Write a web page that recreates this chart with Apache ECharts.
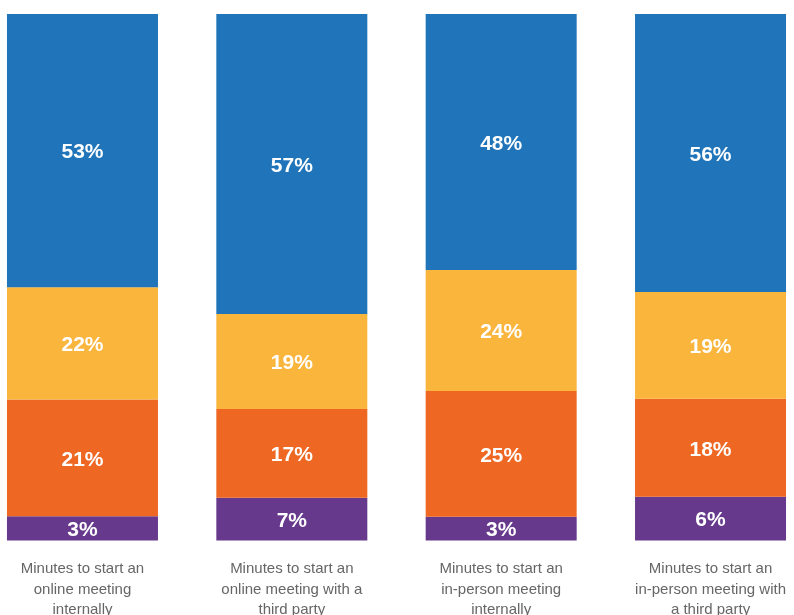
<!DOCTYPE html>
<html>
<head>
<meta charset="utf-8">
<script src="https://cdn.jsdelivr.net/npm/echarts@6/dist/echarts.min.js"></script>
<style>
    html, body { margin: 0; padding: 0; background: #fff; }
    #main { width: 794px; height: 615px; }
</style>
</head>
<body>
<div id="main"></div>
<script>
// categories (x axis)
var categories = [
    'Minutes to start an\nonline meeting\ninternally',
    'Minutes to start an\nonline meeting with a\nthird party',
    'Minutes to start an\nin-person meeting\ninternally',
    'Minutes to start an\nin-person meeting with\na third party'
];

// printed percentages
var labelPurple = [3, 7, 3, 6];
var labelOrange = [21, 17, 25, 18];
var labelYellow = [22, 19, 24, 19];
var labelBlue = [53, 57, 48, 56];

// segment heights as drawn (share of the bar, %)
var sharePurple = [4.6, 8.1, 4.5, 8.3];
var shareOrange = [22.2, 16.9, 23.9, 18.6];
var shareYellow = [21.3, 18.0, 23.0, 20.3];
var shareBlue = [51.9, 57.0, 48.6, 52.8];

(function() {
    var chartDom = document.getElementById('main');
    var myChart = echarts.init(chartDom);

    function makeSeries(name, color, shares, labels) {
        return {
            name: name,
            type: 'bar',
            stack: 'total',
            barWidth: 151,
            data: shares,
            itemStyle: { color: color },
            label: {
                show: true,
                position: 'inside',
                offset: [0, 2],
                color: '#fff',
                fontFamily: 'Liberation Sans, Arial, sans-serif',
                fontWeight: 'bold',
                fontSize: 21,
                formatter: function(p) {
                    return labels[p.dataIndex] + '%';
                }
            }
        };
    }

    var option = {
        animation: false,
        grid: {
            left: -22.2,
            right: -21.2,
            top: 14,
            bottom: 74.5,
            containLabel: false,
            outerBoundsMode: 'none'
        },
        xAxis: {
            type: 'category',
            data: categories,
            axisLine: { show: false },
            axisTick: { show: false },
            axisLabel: {
                interval: 0,
                margin: 18.5,
                color: '#666',
                fontSize: 15,
                lineHeight: 20.5,
                fontFamily: 'Liberation Sans, Arial, sans-serif'
            }
        },
        yAxis: {
            type: 'value',
            min: 0,
            max: 100,
            show: false,
            splitLine: { show: false }
        },
        series: [
            makeSeries('purple', '#67398c', sharePurple, labelPurple),
            makeSeries('orange', '#ee6723', shareOrange, labelOrange),
            makeSeries('yellow', '#fab53c', shareYellow, labelYellow),
            makeSeries('blue', '#1f74ba', shareBlue, labelBlue)
        ]
    };

    myChart.setOption(option);
})();
</script>
</body>
</html>
